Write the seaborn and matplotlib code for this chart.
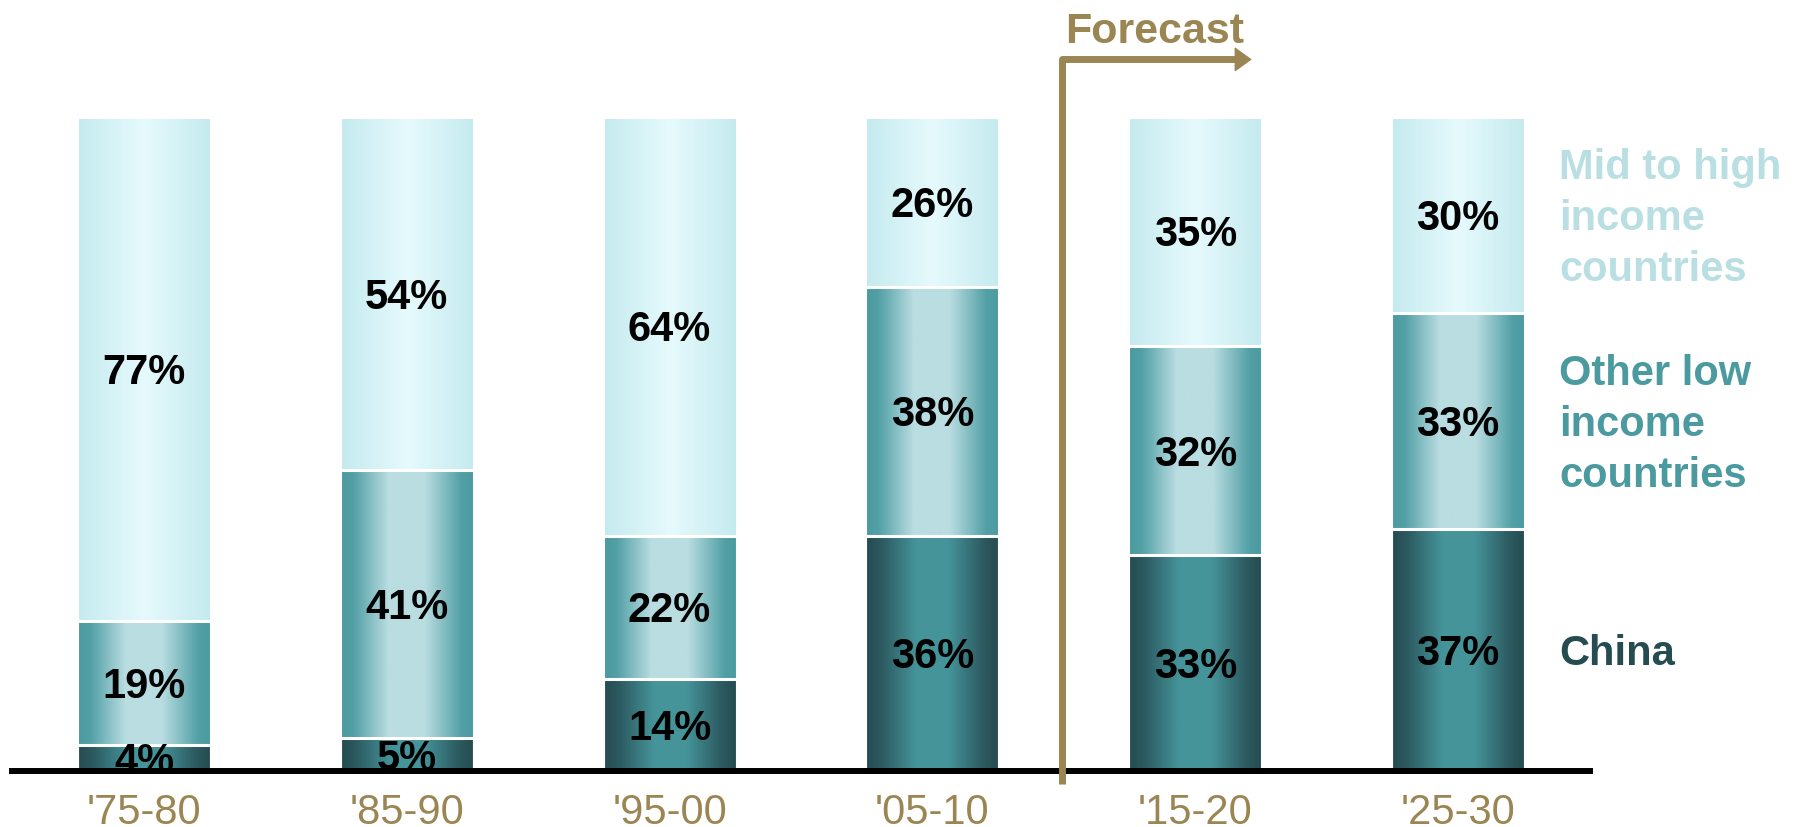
import numpy as np
import pandas as pd
import matplotlib
matplotlib.use("Agg")
import matplotlib.pyplot as plt
from matplotlib.colors import LinearSegmentedColormap
from matplotlib.transforms import offset_copy
import seaborn as sns

periods = ["'75-80", "'85-90", "'95-00", "'05-10", "'15-20", "'25-30"]
china = [4, 5, 14, 36, 33, 37]
other_low = [19, 41, 22, 38, 32, 33]
mid_high = [77, 54, 64, 26, 35, 30]
series_names = ["China", "Other low\nincome\ncountries", "Mid to high\nincome\ncountries"]

sns.set_style("white")
plt.rcParams["font.family"] = ["Liberation Sans", "DejaVu Sans"]

GOLD = "#9b8552"
# gradient stops (edge -> center -> edge) per series
grad = {
    "China": [(0.0, "#244a4f"), (0.12, "#2c5a60"), (0.38, "#45949a"), (0.62, "#45949a"), (0.88, "#2c5a60"), (1.0, "#244a4f")],
    "Other": [(0.0, "#4a9aa0"), (0.1, "#52a0a6"), (0.36, "#b9dde1"), (0.63, "#b9dde1"), (0.9, "#52a0a6"), (1.0, "#4a9aa0")],
    "Mid": [(0.0, "#c4eaee"), (0.5, "#e6fafd"), (1.0, "#c4eaee")],
}
text_colors = ["#244c51", "#4a9aa0", "#b9dfe3"]

df = pd.DataFrame({
    "period": periods,
    "china": china,
    "other": other_low,
    "mid": mid_high,
})
df["cum_china"] = df["china"]
df["cum_other"] = df["china"] + df["other"]
df["cum_mid"] = df["cum_other"] + df["mid"]

fig = plt.figure(figsize=(18.07, 8.27), dpi=100)
ax = fig.add_axes([11.5 / 1807, 56 / 827, (1590 - 11.5) / 1807, 654 / 827])

layers = [("cum_mid", "Mid"), ("cum_other", "Other"), ("cum_china", "China")]
for col, key in layers:
    n0 = len(ax.patches)
    sns.barplot(data=df, x="period", y=col, ax=ax, width=0.51, color="white",
                edgecolor="white", linewidth=2.2, errorbar=None)
    cmap = LinearSegmentedColormap.from_list(key, grad[key])
    g = np.linspace(0, 1, 256).reshape(1, -1)
    for p in ax.patches[n0:]:
        x0, y0, w, h = p.get_x(), p.get_y(), p.get_width(), p.get_height()
        ax.imshow(g, cmap=cmap, aspect="auto", extent=(x0, x0 + w, y0, y0 + h),
                  interpolation="bilinear", zorder=1)
        p.set_facecolor("none")
        p.set_zorder(1.2)

# shift text slightly down to match visual centring
tshift = offset_copy(ax.transData, fig=fig, x=0, y=-4, units="dots")

# value labels at segment centres
bottoms = np.zeros(len(periods))
for vals in [china, other_low, mid_high]:
    for i, v in enumerate(vals):
        ax.text(i, bottoms[i] + v / 2, f"{v}%", ha="center", va="center",
                fontsize=30, fontweight="bold", color="black", zorder=2,
                transform=tshift)
    bottoms = bottoms + np.array(vals)

# series labels to the right, aligned with last bar segments
last = len(periods) - 1
b = 0
for name, vals, tc in zip(series_names, [china, other_low, mid_high], text_colors):
    ax.text(5.384, b + vals[last] / 2, name, ha="left", va="center", fontsize=30,
            fontweight="bold", color=tc, linespacing=1.35, clip_on=False,
            transform=tshift)
    b += vals[last]

ax.set_xlim(-0.504, 5.502)
ax.set_ylim(0, 100)
ax.set_xlabel("")
ax.set_ylabel("")
ax.set_yticks([])
for s in ["left", "top", "right"]:
    ax.spines[s].set_visible(False)
ax.spines["bottom"].set_linewidth(4.3)
ax.spines["bottom"].set_color("black")
ax.spines["bottom"].set_zorder(3)
ax.tick_params(axis="x", length=0, pad=15.5, labelsize=30, labelcolor=GOLD)

# Forecast marker
ax.plot([3.493, 3.493, 4.16], [-2, 108.8, 108.8], color=GOLD, lw=5,
        solid_joinstyle="round", solid_capstyle="butt", clip_on=False, zorder=4)
ax.annotate("", xy=(4.215, 108.8), xytext=(4.15, 108.8), annotation_clip=False,
            arrowprops=dict(arrowstyle="-|>,head_length=0.55,head_width=0.4",
                            mutation_scale=20, color=GOLD, lw=1, shrinkA=0, shrinkB=0))
ax.text(3.847, 113.6, "Forecast", ha="center", va="center", fontsize=31,
        fontweight="bold", color=GOLD, clip_on=False, transform=tshift)

fig.savefig("out.png", dpi=100)
